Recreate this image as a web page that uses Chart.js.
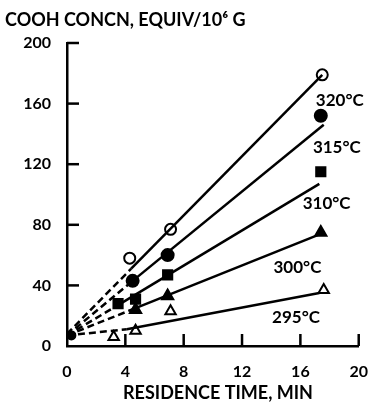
<!DOCTYPE html>
<html>
<head>
<meta charset="utf-8">
<script src="https://cdn.jsdelivr.net/npm/chart.js@4/dist/chart.umd.min.js"></script>
<style>
  html, body { margin: 0; padding: 0; background: #fff; }
  #wrap { width: 376px; height: 402px; }
</style>
</head>
<body>
<div id="wrap"><canvas id="cooh"></canvas></div>
<script>
// measured points, residence time (min) vs COOH (equiv/10^6 g)
var t320 = [4.3, 7.1, 17.5];
var c320 = [58, 77, 179];
var t315 = [4.5, 6.9, 17.4];
var c315 = [43, 60, 152];
var t310 = [3.5, 4.7, 6.9, 17.4];
var c310 = [28, 31, 47, 115];
var t300 = [4.7, 6.9, 17.4];
var c300 = [24, 33, 75];
var t295 = [3.2, 4.7, 7.1, 17.6];
var c295 = [6, 10, 23, 37];
var t0 = [0.3];
var c0 = [7];

// fitted lines: dashed from start to the first break, solid after
var fitT320 = [0, 4.4, 17.5];
var fitC320 = [8, 51, 179];
var fitT315 = [0, 4.5, 17.6];
var fitC315 = [7, 43, 146];
var fitT310 = [0, 3.5, 17.3];
var fitC310 = [7, 27, 107];
var fitT300 = [0, 4.7, 17.4];
var fitC300 = [7, 25, 74];
var fitT295 = [0, 4.1, 17.3];
var fitC295 = [7, 11, 35];

var tempLabels = ['320°C', '315°C', '310°C', '300°C', '295°C'];
var tempLabelT = [18.7, 18.5, 17.8, 15.8, 15.7];
var tempLabelC = [162, 131, 94, 52, 19];

var xTicks = [0, 4, 8, 12, 16, 20];
var yTicks = [0, 40, 80, 120, 160, 200];

var FONT = 'Lato, "DejaVu Sans", sans-serif';

function pts(xs, ys) {
  return xs.map(function (x, i) { return { x: x, y: ys[i] }; });
}

function fit(xs, ys) {
  return {
    type: 'line',
    data: pts(xs, ys),
    borderColor: '#000',
    borderWidth: 2.5,
    pointRadius: 0,
    fill: false,
    segment: {
      borderDash: function (ctx) { return ctx.p0DataIndex === 0 ? [7, 4] : undefined; }
    }
  };
}

function marks(xs, ys, style, fillColor, r) {
  return {
    type: 'scatter',
    data: pts(xs, ys),
    pointStyle: style,
    pointRadius: r,
    backgroundColor: fillColor,
    borderColor: '#000',
    borderWidth: 2,
    showLine: false
  };
}

// inward ticks, titles and the temperature labels
var decorations = {
  id: 'decorations',
  afterDraw: function (chart) {
    var ctx = chart.ctx;
    var xs = chart.scales.x, ys = chart.scales.y;
    var area = chart.chartArea;
    ctx.save();
    ctx.strokeStyle = '#000';
    ctx.lineWidth = 2.5;
    xTicks.slice(1).forEach(function (v) {
      var px = xs.getPixelForValue(v);
      ctx.beginPath();
      ctx.moveTo(px, area.bottom);
      ctx.lineTo(px, area.bottom - 12);
      ctx.stroke();
    });
    yTicks.slice(1).forEach(function (v) {
      var py = ys.getPixelForValue(v);
      ctx.beginPath();
      ctx.moveTo(area.left, py);
      ctx.lineTo(area.left + 12, py);
      ctx.stroke();
    });

    ctx.fillStyle = '#000';
    ctx.font = 'bold 17px ' + FONT;
    ctx.textAlign = 'center';
    ctx.textBaseline = 'middle';
    tempLabels.forEach(function (s, i) {
      ctx.fillText(s, xs.getPixelForValue(tempLabelT[i]), ys.getPixelForValue(tempLabelC[i]));
    });

    ctx.font = 'bold 18px ' + FONT;
    ctx.textAlign = 'left';
    ctx.fillText('COOH CONCN, EQUIV/10⁶ G', 5, 20);
    ctx.textAlign = 'center';
    ctx.fillText('RESIDENCE TIME, MIN', 218, 393);
    ctx.restore();
  }
};

new Chart(document.getElementById('cooh'), {
  type: 'scatter',
  data: {
    datasets: [
      fit(fitT320, fitC320),
      fit(fitT315, fitC315),
      fit(fitT310, fitC310),
      fit(fitT300, fitC300),
      fit(fitT295, fitC295),
      marks(t320, c320, 'circle', '#fff', 5.5),
      marks(t315, c315, 'circle', '#000', 6),
      marks(t310, c310, 'rect', '#000', 6.5),
      marks(t300, c300, 'triangle', '#000', 6.5),
      marks(t295, c295, 'triangle', '#fff', 6),
      marks(t0, c0, 'circle', '#000', 4)
    ]
  },
  options: {
    responsive: true,
    maintainAspectRatio: false,
    animation: false,
    events: [],
    layout: { padding: { top: 43, right: 10, left: 0, bottom: 0 } },
    plugins: {
      legend: { display: false },
      tooltip: { enabled: false }
    },
    scales: {
      x: {
        type: 'linear',
        min: 0,
        max: 20,
        afterFit: function (scale) { scale.height = 56; },
        afterBuildTicks: function (scale) {
          scale.ticks = xTicks.map(function (v) { return { value: v }; });
        },
        border: { display: true, color: '#000', width: 2.5 },
        grid: { display: false },
        ticks: { color: '#000', padding: 8, font: { family: FONT, size: 16, weight: 'bold' } }
      },
      y: {
        type: 'linear',
        min: 0,
        max: 200,
        afterFit: function (scale) { scale.width = 67; },
        afterBuildTicks: function (scale) {
          scale.ticks = yTicks.map(function (v) { return { value: v }; });
        },
        border: { display: true, color: '#000', width: 2.5 },
        grid: { display: false },
        ticks: { color: '#000', padding: 8, font: { family: FONT, size: 16, weight: 'bold' } }
      }
    }
  },
  plugins: [decorations]
});
</script>
</body>
</html>
